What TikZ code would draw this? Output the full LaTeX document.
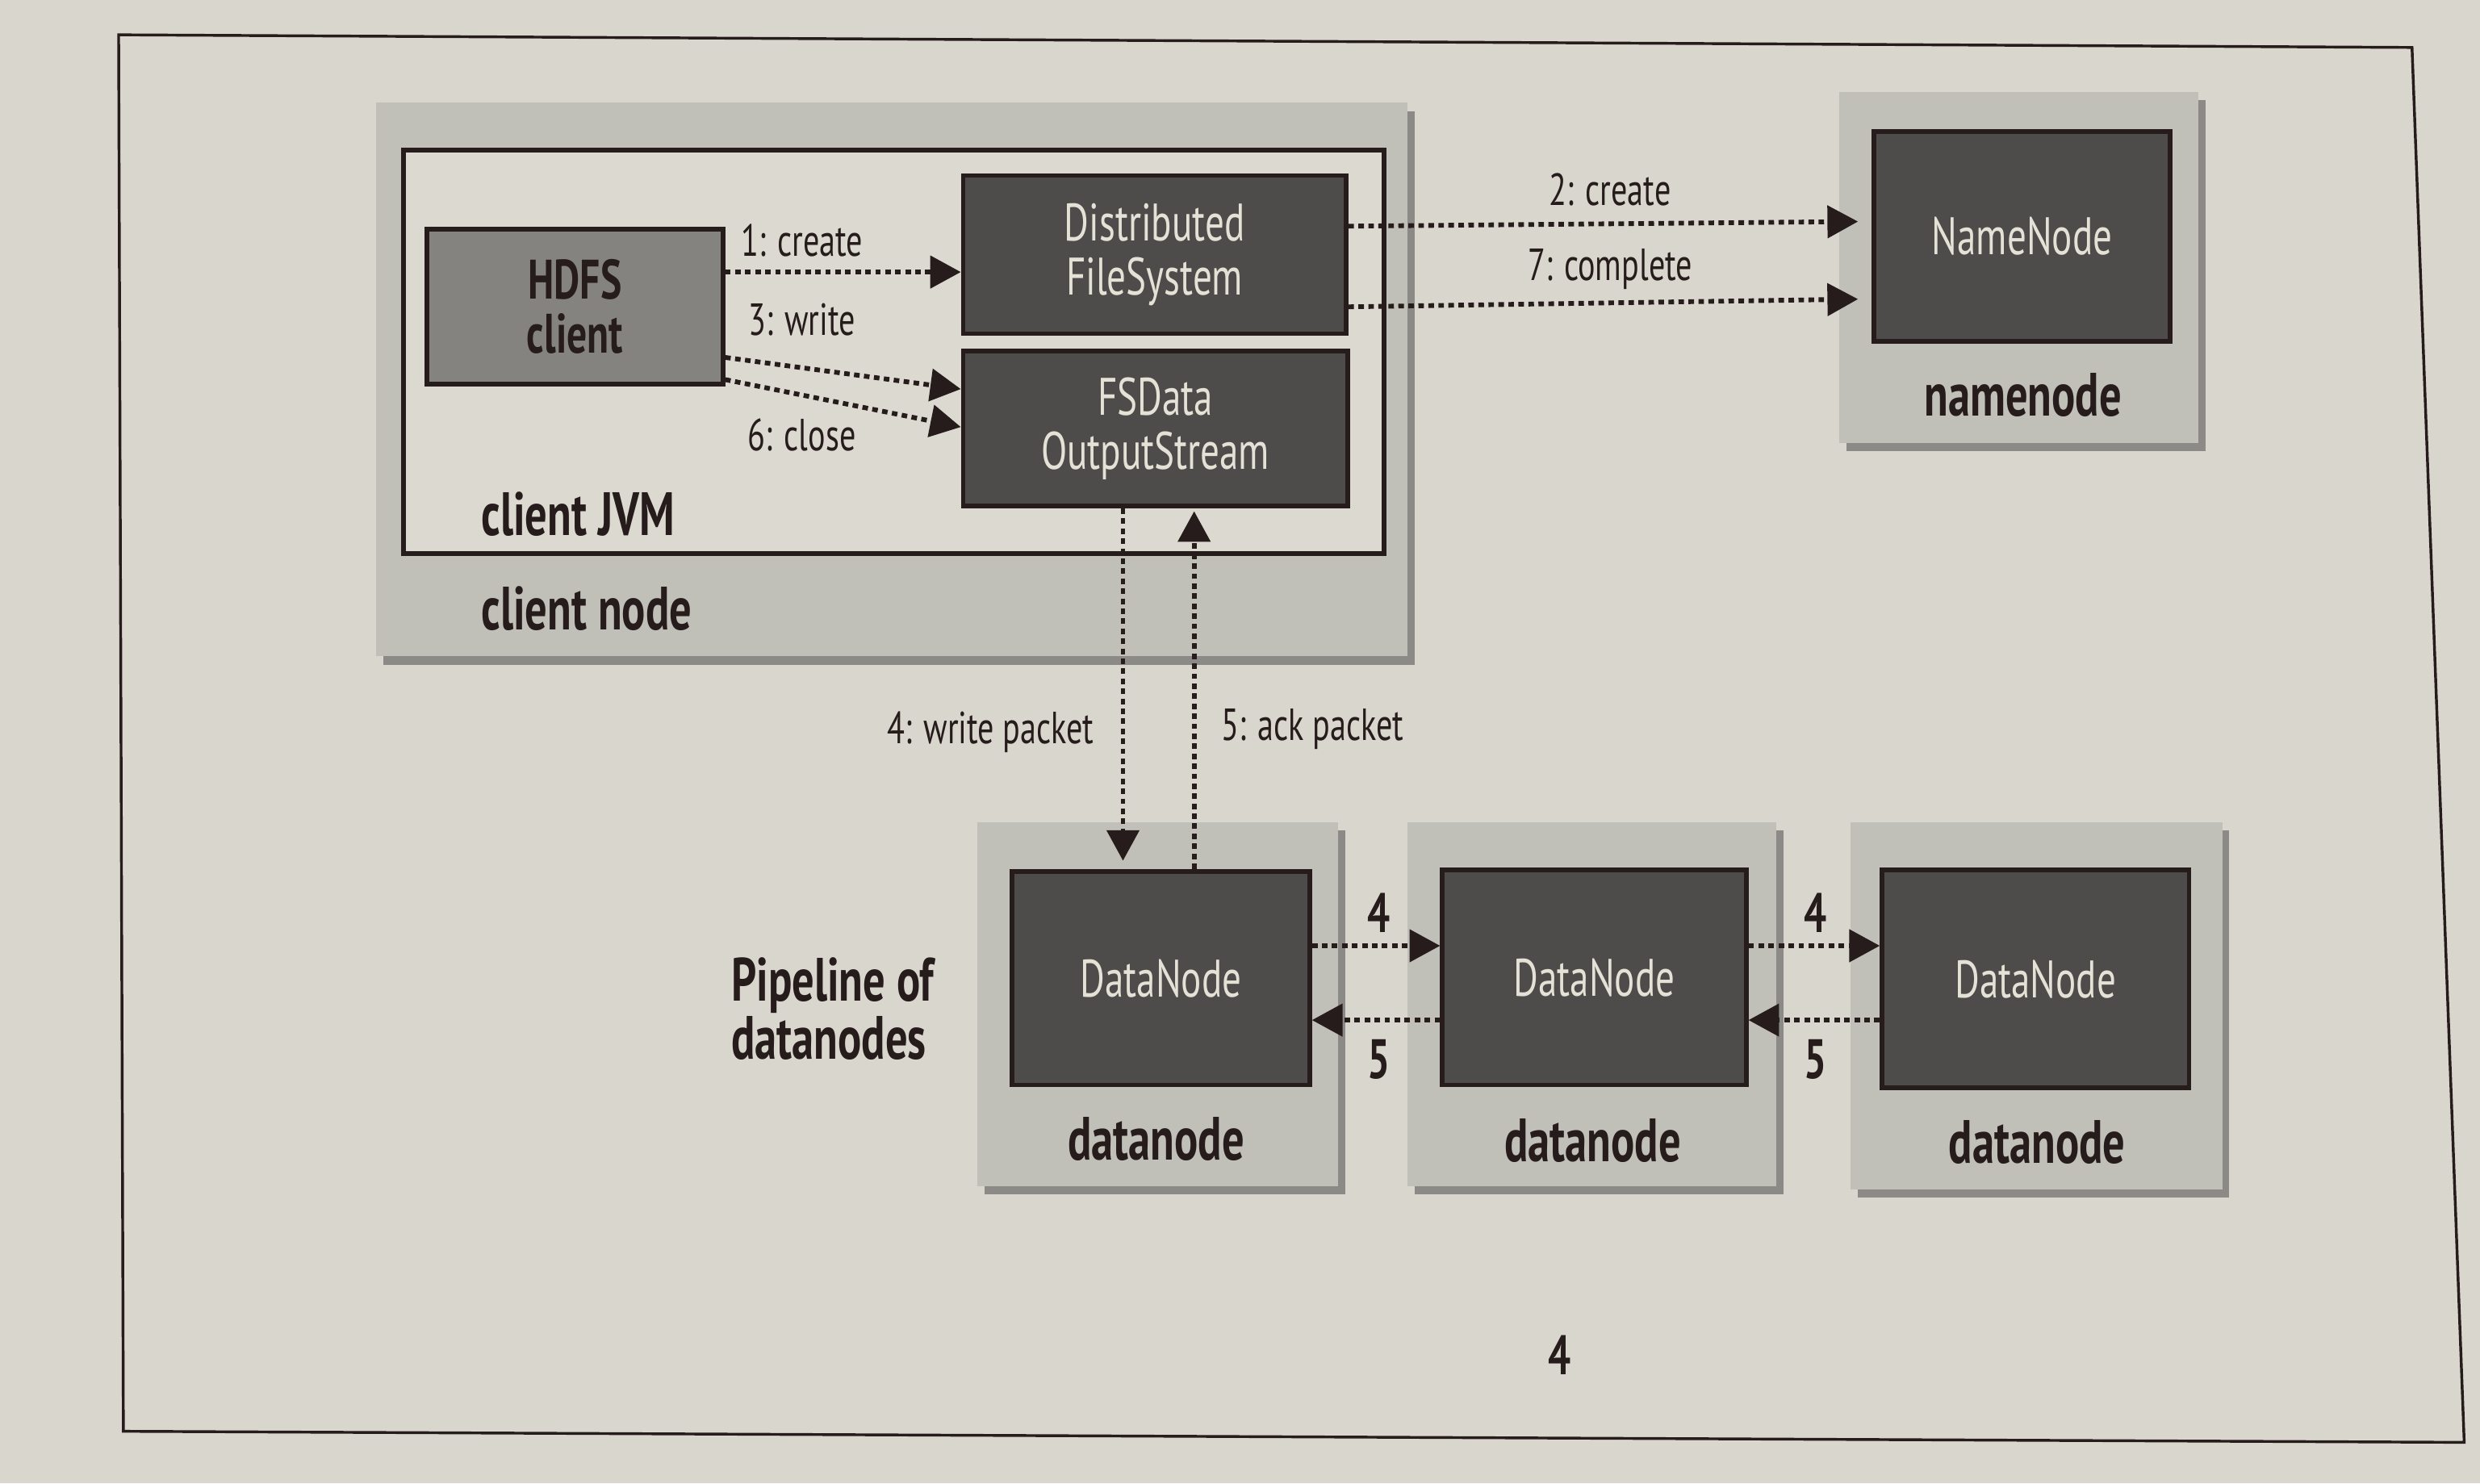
\documentclass[tikz,border=0pt]{standalone}
\usepackage{fontspec}
\setmainfont{PT Sans}[FakeStretch=0.72]
\usetikzlibrary{arrows.meta,shadows}
\definecolor{paper}{RGB}{216,214,205}
\definecolor{outergray}{RGB}{192,191,184}
\definecolor{jvmfill}{RGB}{219,217,208}
\definecolor{midgray}{RGB}{132,131,127}
\definecolor{darkgray}{RGB}{78,76,75}
\definecolor{ink}{RGB}{38,28,28}
\definecolor{lighttext}{RGB}{228,225,214}
\begin{document}
\begin{tikzpicture}[x=0.02cm,y=-0.02cm,
  wh/.style 2 args={minimum width=#1*0.02cm, minimum height=#2*0.02cm},
  outerbox/.style={fill=outergray, draw=none, inner sep=0pt,
    drop shadow={shadow xshift=2.5pt, shadow yshift=-3pt, opacity=0.5, fill=black!75}},
  jvmbox/.style={fill=jvmfill, draw=ink, line width=1.7pt, inner sep=0pt},
  darkbox/.style={fill=darkgray, draw=ink, line width=1.7pt, inner sep=0pt,
    text=lighttext, align=center, font=\fontsize{19}{19.5}\selectfont},
  midbox/.style={fill=midgray, draw=ink, line width=1.7pt, inner sep=0pt,
    text=ink, align=center, font=\fontsize{20}{19.5}\selectfont\bfseries},
  boldlbl/.style={text=ink, inner sep=0pt, font=\fontsize{22}{21}\selectfont\bfseries},
  numlbl/.style={text=ink, inner sep=0pt, font=\fontsize{20}{19}\selectfont\bfseries},
  lbl/.style={text=ink, inner sep=0pt, font=\fontsize{16.2}{16}\selectfont},
  dotarr/.style={draw=ink, line width=1.7pt, dash pattern=on 2pt off 1.6pt,
    -{Triangle[length=11pt,width=11.5pt,fill=ink]}}
]
\useasboundingbox (0,0) rectangle (1568,938);
\fill[paper] (0,0) rectangle (1568,938);
% page frame
\draw[ink, line width=1pt] (75,22) -- (1525,30) -- (1558,912) -- (78,905) -- cycle;

% client node
\node[outerbox, wh={652}{350}] (clientnode) at (564,240) {};
\node[jvmbox, wh={620}{255}] (clientjvm) at (565,222.5) {};
\node[midbox, wh={187}{98}] (hdfs) at (363.5,194) {HDFS\\client};
\node[darkbox, wh={242}{100}] (dfs) at (730,161) {Distributed\\FileSystem};
\node[darkbox, wh={243}{98}] (fsdos) at (730.5,271) {FSData\\OutputStream};
\node[boldlbl, anchor=west] (jvmlbl) at (304,325) {client JVM};
\node[boldlbl, anchor=west] (cnlbl) at (304,385) {client node};

% namenode
\node[outerbox, wh={227}{222}] (nnouter) at (1276.5,169) {};
\node[darkbox, wh={187}{133}] (nn) at (1278.5,149.5) {NameNode};
\node[boldlbl] (nnlbl) at (1279,250) {namenode};

% datanodes
\node[outerbox, wh={228}{230}] (dn1o) at (732,635) {};
\node[darkbox, wh={188}{135}] (dn1) at (734,618.5) {DataNode};
\node[boldlbl] (dn1lbl) at (731,720) {datanode};
\node[outerbox, wh={233}{230}] (dn2o) at (1006.5,635) {};
\node[darkbox, wh={192}{136}] (dn2) at (1008,618) {DataNode};
\node[boldlbl] (dn2lbl) at (1007,721) {datanode};
\node[outerbox, wh={235}{232}] (dn3o) at (1287.5,636) {};
\node[darkbox, wh={194}{138}] (dn3) at (1287,619) {DataNode};
\node[boldlbl] (dn3lbl) at (1288,722) {datanode};

\node[boldlbl, align=left, anchor=west] (pipe) at (462,638) {Pipeline of\\datanodes};

% arrows inside client JVM
\draw[dotarr] (hdfs.east |- 0,172) -- (dfs.west |- 0,172);
\draw[dotarr] (hdfs.east |- 0,226) -- (fsdos.west |- 0,246);
\draw[dotarr] (hdfs.east |- 0,240) -- (fsdos.west |- 0,270);
\node[lbl] (l1) at (507,152) {1: create};
\node[lbl] (l3) at (507,202) {3: write};
\node[lbl] (l6) at (507,275) {6: close};

% to namenode
\draw[dotarr, shorten >=5pt] (dfs.east |- 0,143) -- (nn.west |- 0,140);
\draw[dotarr, shorten >=5pt] (dfs.east |- 0,194) -- (nn.west |- 0,189);
\node[lbl] (l2) at (1018,120) {2: create};
\node[lbl] (l7) at (1018,170) {7: complete};

% to datanodes
\draw[dotarr, shorten >=3pt] (fsdos.south -| 710,0) -- (dn1.north -| 710,0);
\draw[dotarr, shorten >=1pt] (dn1.north -| 755,0) -- (fsdos.south -| 755,0);
\node[lbl, anchor=east] (l4) at (692,463) {4: write packet};
\node[lbl, anchor=west] (l5) at (772,461) {5: ack packet};

% pipeline arrows
\draw[dotarr] (dn1.east |- 0,598) -- (dn2.west |- 0,598);
\draw[dotarr] (dn2.west |- 0,645) -- (dn1.east |- 0,645);
\draw[dotarr] (dn2.east |- 0,598) -- (dn3.west |- 0,598);
\draw[dotarr] (dn3.west |- 0,645) -- (dn2.east |- 0,645);
\node[numlbl] (p4a) at (872,577) {4};
\node[numlbl] (p5a) at (872,670) {5};
\node[numlbl] (p4b) at (1148,577) {4};
\node[numlbl] (p5b) at (1148,670) {5};

% page number
\node[numlbl] (pagenum) at (986,857) {4};
\end{tikzpicture}
\end{document}
